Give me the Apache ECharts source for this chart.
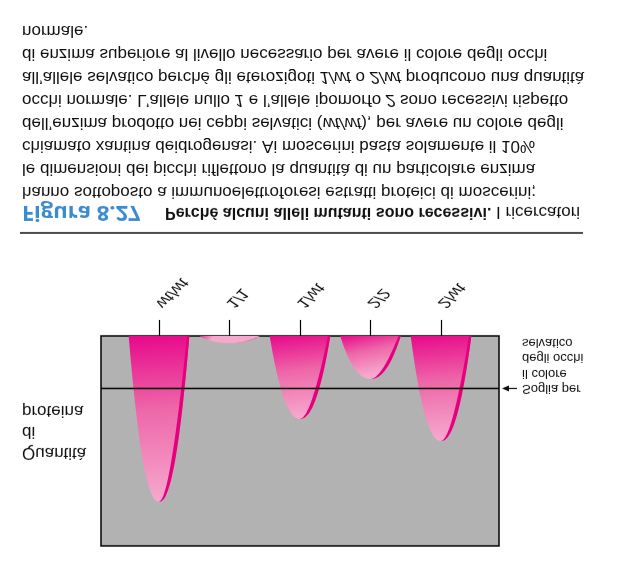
<!DOCTYPE html>
<html>
<head>
<meta charset="utf-8">
<script src="https://cdn.jsdelivr.net/npm/echarts@6/dist/echarts.min.js"></script>
<style>
  html, body { margin: 0; padding: 0; background: #ffffff; }
  #main { width: 623px; height: 564px; transform: scaleY(-1); }
</style>
</head>
<body>
<div id="main"></div>
<script>
// ---- data ----
const categories = ['wt/wt', '1/1', '1/wt', '2/2', '2/wt'];
const enzymeAmount = [79, 3.5, 39.5, 20.5, 50];
const threshold = 25;
const yMax = 100;
const yAxisTitle = 'Quantità\ndi\nproteina';
const thresholdLabel = 'Soglia per\nil colore\ndegli occhi\nselvatico';
const captionLines = [
  '{fig|Figura 8.27}{b|Perché alcuni alleli mutanti sono recessivi.} I ricercatori',
  'hanno sottoposto a immunoelettroforesi estratti proteici di moscerini;',
  'le dimensioni dei picchi riflettono la quantità di un particolare enzima',
  'chiamato xantina deidrogenasi. Ai moscerini basta solamente il 10%',
  'dell’enzima prodotto nei ceppi selvatici ({i|wt/wt}), per avere un colore degli',
  'occhi normale. L’allele nullo {i|1} e l’allele ipomorfo {i|2} sono recessivi rispetto',
  'all’allele selvatico perché gli eterozigoti {i|1/wt} o {i|2/wt} producono una quantità',
  'di enzima superiore al livello necessario per avere il colore degli occhi',
  'normale.'
];

const chart = echarts.init(document.getElementById('main'), null, { renderer: 'canvas' });

const BODY_FONT = '"Liberation Sans Narrow", "Liberation Sans", Arial, sans-serif';
const SANS = '"Liberation Sans", Arial, sans-serif';
const BODY_SIZE = 17;

function renderPeak(params, api) {
  const i = api.value(0);
  const v = api.value(1);
  const base = api.coord([i, 0]);
  const tip = api.coord([i, v]);
  const half = api.size([1, 0])[0] * 0.43;
  const h = base[1] - tip[1];
  const N = 80, p = 2.2;
  const curve = (u) => [base[0] + u * half, base[1] - h * (1 - Math.pow(Math.abs(u), p))];
  const pts = [];
  for (let k = 0; k <= N; k++) pts.push(curve(-1 + 2 * k / N));
  // tapered rim along the right flank
  const scale = Math.min(1, h / 40);
  const outer = [], inner = [];
  const M = 40;
  for (let k = 0; k <= M; k++) {
    const u = 0.04 + 0.96 * k / M;
    const c = curve(u);
    const t = (1.2 + 2.6 * Math.sin(Math.PI * Math.min(1, (u - 0.04) / 0.96) * 0.85)) * scale;
    outer.push(c);
    inner.push([c[0] - t, c[1]]);
  }
  const rim = outer.concat(inner.reverse());
  return {
    type: 'group',
    children: [
      {
        type: 'polygon',
        shape: { points: pts },
        style: {
          fill: new echarts.graphic.LinearGradient(0.15, 0, 0, 1, [
            { offset: 0, color: '#f6a8cd' },
            { offset: 0.55, color: '#ee67a9' },
            { offset: 1, color: '#e8098b' }
          ])
        }
      },
      {
        type: 'polygon',
        shape: { points: rim },
        style: { fill: '#e6007e' }
      }
    ]
  };
}

const captionGraphics = captionLines.map((line, idx) => ({
  type: 'text',
  left: 22,
  top: 352 + idx * 23 - 11,
  style: {
    text: line,
    font: BODY_SIZE + 'px ' + BODY_FONT,
    fill: '#111',
    rich: {
      fig: { fontFamily: '"Open Sans", "Liberation Sans", sans-serif', fontWeight: 'bold', fontSize: 22, fill: '#3b8bd0', width: 143 },
      b: { fontFamily: BODY_FONT, fontWeight: 'bold', fontSize: 16, fill: '#111' },
      i: { fontFamily: BODY_FONT, fontStyle: 'italic', fontSize: BODY_SIZE, fill: '#111' }
    }
  }
}));

const option = {
  animation: false,
  backgroundColor: '#ffffff',
  grid: [
    { left: 101, top: 18, width: 398, height: 210, show: true, backgroundColor: '#b2b2b2', borderColor: '#000', borderWidth: 1.5, z: 0 },
    { left: 123.75, top: 18, width: 352.5, height: 210, show: false }
  ],
  xAxis: [
    { gridIndex: 0, type: 'value', min: 0, max: 1, show: false },
    {
      gridIndex: 1, type: 'category', data: categories, boundaryGap: true,
      axisLine: { show: false },
      axisTick: { show: true, alignWithLabel: true, length: 16, lineStyle: { color: '#000', width: 1.2 } },
      axisLabel: {
        interval: 0, rotate: -45, margin: 30, hideOverlap: false,
        fontFamily: SANS, fontSize: 16, fontStyle: 'italic', color: '#111'
      },
      splitLine: { show: false }
    }
  ],
  yAxis: [
    { gridIndex: 0, type: 'value', min: 0, max: yMax, show: false },
    { gridIndex: 1, type: 'value', min: 0, max: yMax, show: false }
  ],
  series: [
    {
      type: 'custom', xAxisIndex: 1, yAxisIndex: 1,
      renderItem: renderPeak,
      data: categories.map((c, i) => [i, enzymeAmount[i]]),
      z: 2
    },
    {
      type: 'line', xAxisIndex: 0, yAxisIndex: 0,
      data: [[0, threshold], [1, threshold]],
      symbol: 'none',
      lineStyle: { color: '#000', width: 1.5 },
      z: 5
    }
  ],
  graphic: []
};

chart.setOption(option);

const thrY = chart.convertToPixel({ xAxisIndex: 0, yAxisIndex: 0 }, [1, threshold]);
const ty = thrY[1];
const tx = thrY[0];

chart.setOption({
  graphic: [
    {
      type: 'line',
      shape: { x1: 20, y1: 331, x2: 583, y2: 331 },
      style: { stroke: '#111', lineWidth: 1.5 }
    },
    ...captionGraphics,
    {
      type: 'text',
      left: 22,
      top: 101,
      style: { text: yAxisTitle, font: '17px ' + SANS, lineHeight: 21, fill: '#111' }
    },
    {
      type: 'line',
      shape: { x1: tx + 5, y1: ty, x2: tx + 18, y2: ty },
      style: { stroke: '#111', lineWidth: 1.2 }
    },
    {
      type: 'polygon',
      shape: { points: [[tx + 3, ty], [tx + 10, ty - 3], [tx + 10, ty + 3]] },
      style: { fill: '#111' }
    },
    {
      type: 'text',
      left: tx + 23,
      top: ty - 8,
      style: { text: thresholdLabel, font: '13px ' + SANS, lineHeight: 15.5, fill: '#111' }
    }
  ]
});
</script>
</body>
</html>
